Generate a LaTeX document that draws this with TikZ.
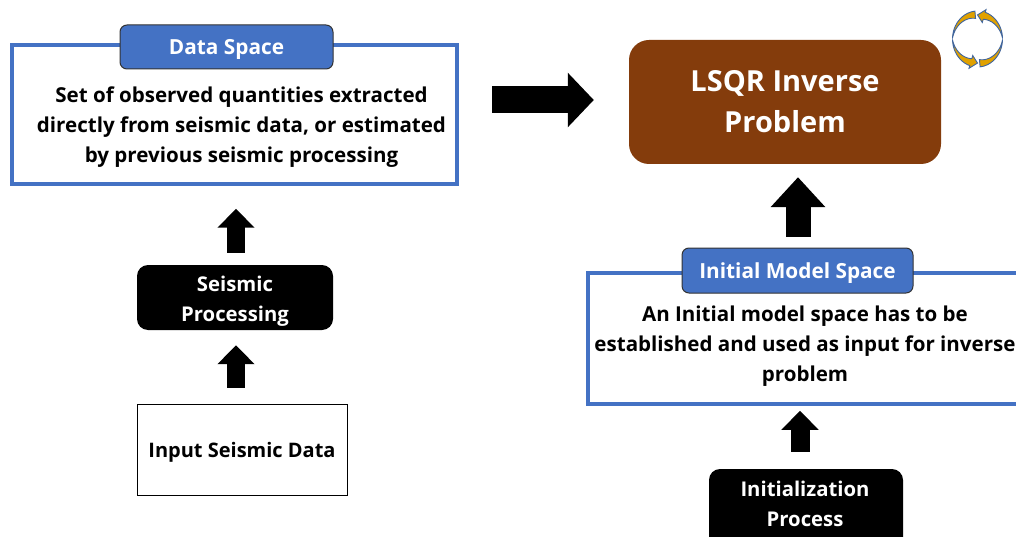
\documentclass[tikz,border=0pt]{standalone}
\usepackage{fontspec}
\setmainfont{Open Sans}
\usetikzlibrary{arrows.meta, positioning}
\definecolor{boxblue}{HTML}{4472C4}
\definecolor{lsqrbrown}{HTML}{843C0C}
\definecolor{icongold}{HTML}{E0A100}
\definecolor{iconblue}{HTML}{3F659F}
\tikzset{
  spacebox/.style={draw=boxblue,line width=3.5pt,rectangle,fill=white},
  headbox/.style={draw=black!80,fill=boxblue,rounded corners=7pt,line width=1pt,text=white,text height=21pt,text depth=5pt,font=\fontsize{20.8}{24}\selectfont\bfseries},
  procbox/.style={fill=black,rounded corners=11pt},
  proctext/.style={text=white,align=center,inner sep=0pt,font=\fontsize{20.3}{30}\selectfont\bfseries},
  bodytext/.style={align=center,inner sep=0pt,font=\fontsize{20.55}{30}\selectfont\bfseries},
  blockup/.style={line width=#1,draw=black,-{Triangle[length=19pt,width=36pt]}},
}
\begin{document}
\begin{tikzpicture}[x=1pt,y=-1pt]
\clip (0,0) rectangle (1016,537);
\fill[white] (0,0) rectangle (1016,537);

\node[spacebox,minimum width=445pt,minimum height=139pt] at (234.5,114.5) (data) {};
\node[headbox,minimum width=213pt,minimum height=44pt] at (226.5,47) (datahead) {Data Space};
\node[bodytext] at (241.5,127) (datatext) {Set of observed quantities extracted\\directly from seismic data, or estimated\\by previous seismic processing};

\node[procbox,minimum width=196pt,minimum height=65pt] at (235,297.5) (proc) {};
\node[proctext] at (235,301) (proclabel) {Seismic\\Processing};
\node[draw=black,line width=1pt,minimum width=210pt,minimum height=91pt,text height=21pt,text depth=5pt,font=\fontsize{20}{25}\selectfont\bfseries] at (242,449.5) (input) {Input Seismic Data};

\node[fill=lsqrbrown,rounded corners=20pt,minimum width=312pt,minimum height=124pt,text=white,align=center,font=\fontsize{29}{41}\selectfont\bfseries] at (785,102) (lsqr) {LSQR Inverse\\Problem};

\node[spacebox,minimum width=480pt,minimum height=131pt,anchor=west] at (586,338.5) (model) {};
\node[headbox,minimum width=231pt,minimum height=45pt] at (797.5,270.5) (modelhead) {Initial Model Space};
\node[bodytext] at (805,346) (modeltext) {An Initial model space has to be\\established and used as input for inverse\\problem};

\node[procbox,minimum width=194pt,minimum height=90pt] at (806,514) (init) {};
\node[proctext] at (805,504) (initlabel) {Initialization\\Process};

% arrows between the boxes
\draw[blockup=18pt,shorten >=15pt] (input.north -| 236,0) ++(0,-16) -- (proc.south -| 236,0);
\draw[blockup=18pt,shorten >=23pt] (proc.north -| 236,0) ++(0,-12) -- (data.south -| 236,0);
\draw[blockup=19pt,shorten >=5pt] (init.north -| 800,0) ++(0,-17) -- (model.south -| 800,0);
\draw[line width=25pt,-{Triangle[length=30pt,width=53pt]},shorten >=13pt] (modelhead.north -| 798,0) ++(0,-11) -- (lsqr.south -| 798,0);
\draw[line width=27pt,-{Triangle[length=26pt,width=53pt]},shorten >=35pt] (492,100) -- (lsqr.west |- 0,100);

% cycle icon
\foreach \r in {0,180}{
\begin{scope}[shift={(977.5,39)},x=25pt,y=28pt,rotate=\r]
\filldraw[fill=icongold,draw=iconblue,line width=.9pt] plot[domain=178:96,samples=20] (\x:1) -- plot[domain=96:178,samples=20] (\x:{1-.26*(178-\x)/82}) -- cycle;
\filldraw[fill=icongold,draw=iconblue,line width=.9pt] plot[domain=2:72,samples=20] (\x:1) -- (72:1.1) -- (90:.86) -- (72:.62) -- (72:.74) -- plot[domain=72:2,samples=20] (\x:{1-.26*(\x-2)/70}) -- cycle;
\end{scope}
}

\end{tikzpicture}
\end{document}
